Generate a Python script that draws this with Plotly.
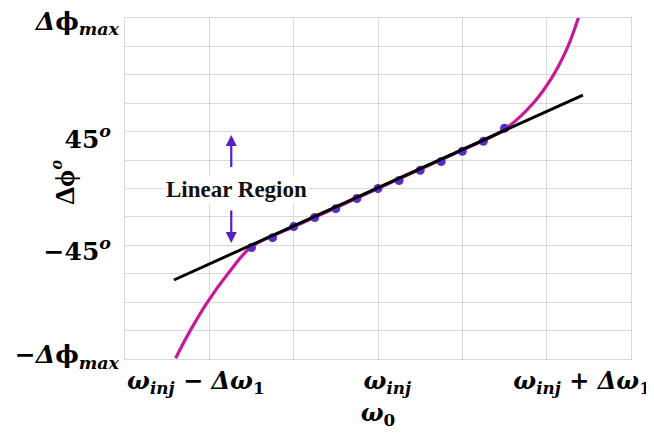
import plotly.graph_objects as go

# ---- data ----
curve_x = [-2.40, -2.23, -2.03, -1.78, -1.50, -1.00, -0.50, 0.00, 0.50, 1.00, 1.50, 1.84, 2.08, 2.25, 2.38]
curve_y = [-5.97, -5.02, -4.03, -3.00, -2.05, -1.35, -0.68, 0.00, 0.68, 1.35, 2.08, 3.00, 3.99, 4.98, 6.04]

dots_x = [-1.50, -1.25, -1.00, -0.75, -0.50, -0.25, 0.00, 0.25, 0.50, 0.75, 1.00, 1.25, 1.50]
dots_y = [-2.08, -1.73, -1.34, -1.02, -0.71, -0.35, 0.00, 0.28, 0.64, 0.95, 1.31, 1.66, 2.12]

line_x = [-2.42, 2.43]
line_y = [-3.22, 3.29]

x_tick_vals = [-2.16, 0.11, 2.42]
x_tick_text = [
    "<b><i>ω<sub>inj</sub></i> − <i>Δω</i><sub>1</sub></b>",
    "<b><i>ω<sub>inj</sub></i></b>",
    "<b><i>ω<sub>inj</sub></i> + <i>Δω</i><sub>1</sub></b>",
]
y_tick_vals = [5.88, 1.75, -2.2, -5.85]
y_tick_text = [
    "<b><i>Δ</i>ϕ<sub><i>max</i></sub></b>",
    "<b>45<sup><i>o</i></sup></b>\u00a0",
    "<b>−45<sup><i>o</i></sup></b>\u00a0",
    "<b>−<i>Δ</i>ϕ<sub><i>max</i></sub></b>",
]

MAGENTA = "#C8199A"
DOT = "#5A2DC8"
ARROW = "#5520C0"
GRID = "#D9D9D9"
MATH_FONT = "DejaVu Serif"

# the page body has an 8px margin, so the figure is sized/offset to compensate
W, H = 646, 428
ML, MR, MT, MB = 117, 23, 10, 77

fig = go.Figure()
fig.add_trace(go.Scatter(x=curve_x, y=curve_y, mode="lines",
                         line=dict(color=MAGENTA, width=3.2, shape="spline", smoothing=1.0),
                         hoverinfo="skip", showlegend=False))
fig.add_trace(go.Scatter(x=dots_x, y=dots_y, mode="markers",
                         marker=dict(color=DOT, size=9),
                         hoverinfo="skip", showlegend=False))
fig.add_trace(go.Scatter(x=line_x, y=line_y, mode="lines",
                         line=dict(color="black", width=3),
                         hoverinfo="skip", showlegend=False))

# Linear region label and arrows
fig.add_annotation(x=-1.68, y=-0.05, xref="x", yref="y", text="<b>Linear Region</b>",
                   showarrow=False, bgcolor="white", borderpad=1,
                   font=dict(family="Liberation Serif", size=23, color="#111111"))
fig.add_annotation(x=-1.74, y=1.88, ax=-1.74, ay=0.70, xref="x", yref="y", axref="x", ayref="y",
                   text="", showarrow=True, arrowhead=2, arrowsize=1, arrowwidth=2.2, arrowcolor=ARROW)
fig.add_annotation(x=-1.74, y=-1.92, ax=-1.74, ay=-0.72, xref="x", yref="y", axref="x", ayref="y",
                   text="", showarrow=True, arrowhead=2, arrowsize=1, arrowwidth=2.2, arrowcolor=ARROW)

# y axis title (position in page pixels, converted to paper coords)
pw = W - ML - MR
ph = H - MT - MB
fig.add_annotation(x=(43 - 8 - ML) / pw, y=1 - (182 - 8 - MT) / ph, xref="paper", yref="paper",
                   text="<b>Δϕ<sup><i>o</i></sup></b>",
                   showarrow=False, textangle=-90,
                   font=dict(family="Liberation Serif", size=28, color="black"))

fig.update_layout(
    width=W, height=H,
    margin=dict(l=ML, r=MR, t=MT, b=MB),
    plot_bgcolor="white", paper_bgcolor="white",
    showlegend=False,
    xaxis=dict(range=[-3, 3], tickvals=x_tick_vals, ticktext=x_tick_text,
               showgrid=False, zeroline=False, ticks="", automargin=False,
               ticklabeloverflow="allow",
               showline=True, linecolor=GRID, linewidth=1, mirror=True,
               minor=dict(tick0=0, dtick=1, showgrid=True, gridcolor=GRID, gridwidth=1),
               tickfont=dict(family=MATH_FONT, size=24, color="black"),
               title=dict(text="<b><i>ω</i><sub>0</sub></b>", standoff=4,
                          font=dict(family=MATH_FONT, size=24, color="black"))),
    yaxis=dict(range=[-6, 6], tickvals=y_tick_vals, ticktext=y_tick_text,
               showgrid=False, zeroline=False, ticks="", automargin=False,
               ticklabeloverflow="allow",
               showline=True, linecolor=GRID, linewidth=1, mirror=True,
               minor=dict(tick0=0, dtick=1, showgrid=True, gridcolor=GRID, gridwidth=1),
               tickfont=dict(family=MATH_FONT, size=25, color="black")),
)

fig.write_html("out.html")
